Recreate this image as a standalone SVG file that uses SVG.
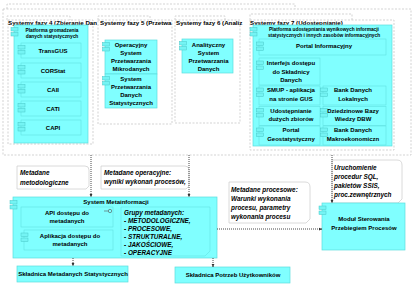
<svg xmlns="http://www.w3.org/2000/svg" width="416" height="287" viewBox="0 0 416 287">
<style>
.grp{fill:none;stroke:#c8c8c8;stroke-width:0.8;stroke-dasharray:2 1.5}
.cy{fill:#80ffff;stroke:#5cdcdc;stroke-width:0.7}
.in{fill:#80ffff;stroke:#62e2e2;stroke-width:0.6}
.ic{fill:#74f4f4;stroke:#48c8c8;stroke-width:0.5}
.note{fill:#fff;stroke:#d0d0d0;stroke-width:0.8}
.conn{fill:none;stroke:#333;stroke-width:0.9;stroke-dasharray:1 1}
text{font-family:"Liberation Sans",Arial,sans-serif;font-weight:bold;font-size:6px;fill:#000}
.c{text-anchor:middle}
.sm{font-size:4.8px}
.ti{font-size:6.2px}
.it{font-style:italic;font-size:6.4px}
</style>
<defs>
<marker id="ar" viewBox="0 0 6 6" refX="5.5" refY="3" markerWidth="4" markerHeight="4" orient="auto">
<path d="M0,0.5 L6,3 L0,5.5 Z" fill="#333"/>
</marker>
<g id="icon"><rect class="ic" x="0" y="0" width="7" height="3.5"/><rect class="ic" x="0" y="5" width="7" height="3.5"/></g>
</defs>

<!-- outer package -->
<g id="outer">
<path class="grp" d="M7,9 V4 H295 V9"/>
<rect class="grp" x="3" y="9" width="408" height="146"/>
</g>

<!-- phase 4 -->
<g id="faza4">
<path class="grp" d="M7,20 V16 H70 V20"/>
<rect class="grp" x="8" y="20" width="85" height="124"/>
<text class="ti" x="8" y="24.5">Systemy fazy 4 (Zbieranie Dan</text>
<rect class="cy" x="14" y="25" width="74" height="118"/>
<use href="#icon" x="11" y="27.5"/>
<text class="c sm" x="52" y="31.5">Platforma gromadzenia</text>
<text class="c sm" x="52" y="38">danych statystycznych</text>
<g id="transgus"><rect class="in" x="21" y="43" width="60" height="15"/><use href="#icon" x="18" y="45.5"/><text class="c" x="53" y="52.5">TransGUS</text></g>
<g id="corstat"><rect class="in" x="21" y="63" width="60" height="15"/><use href="#icon" x="18" y="65.5"/><text class="c" x="53" y="72.5">CORStat</text></g>
<g id="caii"><rect class="in" x="21" y="82" width="60" height="15"/><use href="#icon" x="18" y="84.5"/><text class="c" x="53" y="91.5">CAII</text></g>
<g id="cati"><rect class="in" x="21" y="101" width="60" height="15"/><use href="#icon" x="18" y="103.5"/><text class="c" x="53" y="110.5">CATI</text></g>
<g id="capi"><rect class="in" x="21" y="120" width="60" height="15"/><use href="#icon" x="18" y="122.5"/><text class="c" x="53" y="129.5">CAPI</text></g>
</g>

<!-- phase 5 -->
<g id="faza5">
<path class="grp" d="M98,20 V16 H150 V20"/>
<rect class="grp" x="98" y="20" width="74" height="104"/>
<text class="ti" x="100" y="24.5">Systemy fazy 5 (Przetwa</text>
<g id="osp"><rect class="cy" x="105" y="40" width="52" height="34"/><use href="#icon" x="102.5" y="42.5"/>
<text class="c" x="131" y="47">Operacyjny</text><text class="c" x="131" y="55">System</text><text class="c" x="131" y="63">Przetwarzania</text><text class="c" x="131" y="71">Mikrodanych</text></g>
<g id="spds"><rect class="cy" x="105" y="74" width="52" height="34"/><use href="#icon" x="102.5" y="76.5"/>
<text class="c" x="131" y="81">System</text><text class="c" x="131" y="89">Przetwarzania</text><text class="c" x="131" y="97">Danych</text><text class="c" x="131" y="105">Statystycznych</text></g>
</g>

<!-- phase 6 -->
<g id="faza6">
<path class="grp" d="M175,20 V16 H225 V20"/>
<rect class="grp" x="175" y="20" width="65" height="103"/>
<text class="ti" x="176" y="24.5">Systemy fazy 6 (Analiz</text>
<g id="asp"><rect class="cy" x="182" y="39" width="51" height="34"/><use href="#icon" x="179.5" y="41.5"/>
<text class="c" x="208.5" y="47">Analityczny</text><text class="c" x="208.5" y="55">System</text><text class="c" x="208.5" y="63">Przetwarzania</text><text class="c" x="208.5" y="71">Danych</text></g>
</g>

<!-- phase 7 -->
<g id="faza7">
<path class="grp" d="M250,20 V14 H352 V20"/>
<rect class="grp" x="250" y="20" width="144" height="130"/>
<text class="ti" x="250" y="24.5">Systemy fazy 7 (Udostępnianie)</text>
<rect class="cy" x="253" y="25" width="139" height="121"/>
<use href="#icon" x="250" y="27.5"/>
<text class="c sm" x="324" y="30.5">Platforma udostępniania wynikowych informacji</text>
<text class="c sm" x="324" y="36.5">statystycznych i innych zasobów informacyjnych</text>
<g id="portal"><rect class="in" x="259" y="39" width="127" height="16"/><use href="#icon" x="256.5" y="42"/><text class="c" x="324" y="47.5">Portal Informacyjny</text></g>
<g id="interfejs"><rect class="in" x="259" y="58" width="61" height="27"/><use href="#icon" x="256.5" y="61"/>
<text class="c" x="291" y="65">Interfejs dostępu</text><text class="c" x="291" y="73.5">do Składnicy</text><text class="c" x="291" y="82">Danych</text></g>
<g id="smup"><rect class="in" x="259" y="86" width="61" height="19"/><use href="#icon" x="256.5" y="88"/>
<text class="c" x="291" y="92">SMUP - aplikacja</text><text class="c" x="291" y="100.5">na stronie GUS</text></g>
<g id="udost"><rect class="in" x="259" y="106.5" width="61" height="19"/><use href="#icon" x="256.5" y="108.5"/>
<text class="c" x="291" y="112.5">Udostępnianie</text><text class="c" x="291" y="121">dużych zbiorów</text></g>
<g id="geo"><rect class="in" x="259" y="126" width="61" height="19"/><use href="#icon" x="256.5" y="128"/>
<text class="c" x="291" y="132">Portal</text><text class="c" x="291" y="140.5">Geostatystyczny</text></g>
<g id="bdl"><rect class="in" x="323" y="86" width="63" height="19"/><use href="#icon" x="320.5" y="88"/>
<text class="c" x="353" y="92">Bank Danych</text><text class="c" x="353" y="100.5">Lokalnych</text></g>
<g id="dbw"><rect class="in" x="323" y="106.5" width="63" height="19"/><use href="#icon" x="320.5" y="108.5"/>
<text class="c" x="353" y="112.5">Dziedzinowe Bazy</text><text class="c" x="353" y="121">Wiedzy DBW</text></g>
<g id="bdm"><rect class="in" x="323" y="126" width="63" height="19"/><use href="#icon" x="320.5" y="128"/>
<text class="c" x="353" y="132">Bank Danych</text><text class="c" x="353" y="140.5">Makroekonomiczn</text></g>
</g>

<!-- notes -->
<g id="note-metod">
<path class="note" d="M17,166 H85 Q89,166 89,170 V186 L86,189 H17 Z"/>
<text class="it" x="20" y="174.5">Metadane</text><text class="it" x="20" y="184.5">metodologiczne</text>
</g>
<g id="note-oper">
<path class="note" d="M101,166 H185 Q189,166 189,170 V186 L186,189 H101 Z"/>
<text class="it" x="104" y="174.5">Metadane operacyjne:</text><text class="it" x="104" y="184">wyniki wykonań procesów,</text>
</g>
<g id="note-proc">
<path class="note" d="M229,182 H305 Q310,182 310,187 V219 L306,223 H229 Z"/>
<text class="it" x="231" y="192">Metadane procesowe:</text><text class="it" x="231" y="201">Warunki wykonania</text><text class="it" x="231" y="210">procesu, parametry</text><text class="it" x="231" y="219">wykonania procesu</text>
</g>
<g id="note-uruch">
<path class="note" d="M332,160 H397 Q402,160 402,165 V199 L398,203 H332 Z"/>
<text class="it" x="334" y="170">Uruchomienie</text><text class="it" x="334" y="179">procedur SQL,</text><text class="it" x="334" y="188">pakietów SSIS,</text><text class="it" x="334" y="197">proc.zewnętrznych</text>
</g>

<!-- System Metainformacji -->
<g id="system-meta">
<rect class="cy" x="13" y="197" width="204" height="61"/>
<use href="#icon" x="10" y="200.5"/>
<text class="c" x="116" y="204">System Metainformacji</text>
<g id="api"><rect class="in" x="21" y="207" width="92" height="20"/>
<line x1="104" y1="211" x2="108.3" y2="211" stroke="#555" stroke-width="0.6"/><circle cx="110" cy="211" r="1.7" fill="none" stroke="#555" stroke-width="0.6"/>
<text class="c" x="67" y="215">API dostępu do</text><text class="c" x="67" y="223">metadanych</text></g>
<g id="aplikacja"><rect class="in" x="24" y="230" width="89" height="20"/><use href="#icon" x="21" y="233"/>
<text class="c" x="70" y="238">Aplikacja dostępu do</text><text class="c" x="70" y="246">metadanych</text></g>
<g id="grupy"><path class="in" d="M121,207 H210 V251 L205,256 H121 Z"/>
<text class="it" font-size="6" x="124" y="215">Grupy metadanych:</text>
<text class="it" x="124" y="223">- METODOLOGICZNE,</text>
<text class="it" x="124" y="231">- PROCESOWE,</text>
<text class="it" x="124" y="239">- STRUKTURALNE,</text>
<text class="it" x="124" y="247">- JAKOŚCIOWE,</text>
<text class="it" x="124" y="255">- OPERACYJNE</text></g>
</g>

<g id="skladnica-meta">
<rect class="cy" x="17" y="266" width="111" height="16"/>
<text class="c" x="73" y="276">Składnica Metadanych Statystycznych</text>
</g>
<g id="skladnica-potrzeb">
<rect class="cy" x="175" y="267" width="115" height="16"/>
<text class="c" x="233" y="277">Składnica Potrzeb Użytkowników</text>
</g>
<g id="modul">
<rect class="cy" x="322" y="203" width="83" height="47"/>
<use href="#icon" x="319" y="206"/>
<text class="c" x="364" y="221">Moduł Sterowania</text>
<text class="c" x="364" y="230">Przebiegiem Procesów</text>
</g>

<!-- connectors -->
<g id="connectors">
<line class="conn" x1="91" y1="155" x2="91" y2="197" marker-end="url(#ar)"/>
<line class="conn" x1="189" y1="155" x2="189" y2="197" marker-end="url(#ar)"/>
<line class="conn" x1="332" y1="155" x2="332" y2="203" marker-end="url(#ar)"/>
<line class="conn" x1="217" y1="229" x2="322" y2="229" marker-end="url(#ar)"/>
<line class="conn" x1="73" y1="258" x2="73" y2="266" marker-end="url(#ar)"/>
<line class="conn" x1="213" y1="258" x2="213" y2="267" marker-end="url(#ar)"/>
</g>
</svg>
